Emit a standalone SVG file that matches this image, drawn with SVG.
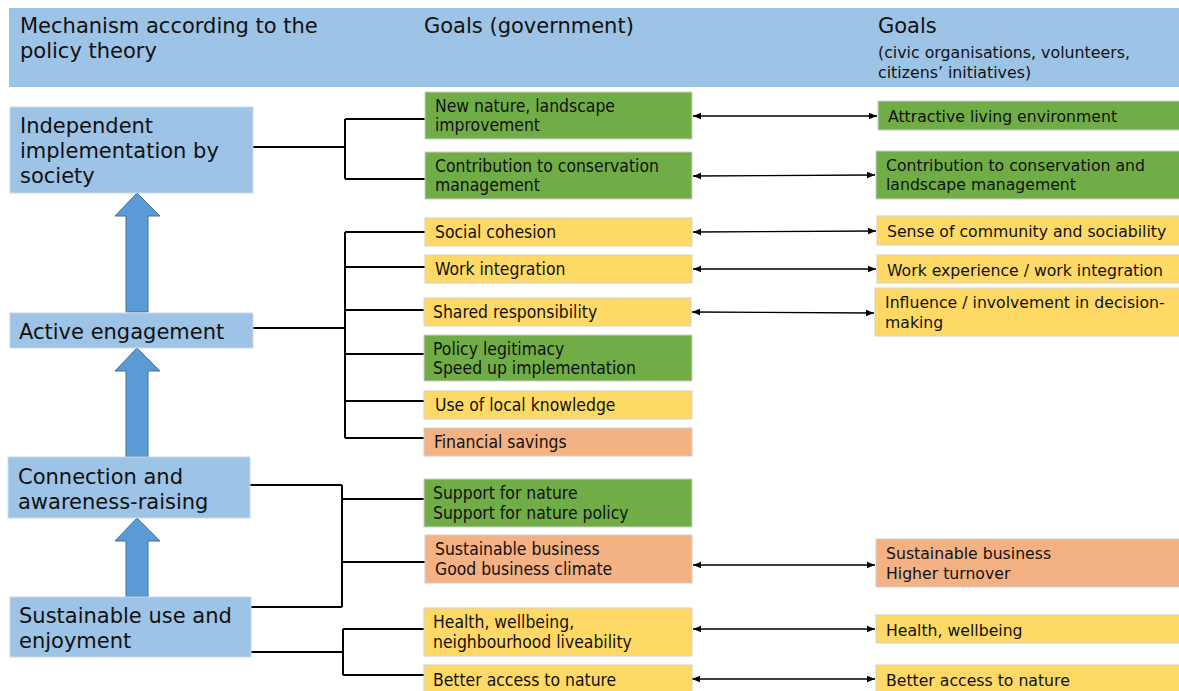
<svg xmlns="http://www.w3.org/2000/svg" width="1179" height="691" viewBox="0 0 1179 691">
<defs>
<marker id="ah" viewBox="0 0 10 10" refX="10" refY="5" markerWidth="8" markerHeight="8" markerUnits="userSpaceOnUse" orient="auto-start-reverse">
<path d="M0,1 L10,5 L0,9 z" fill="#000"/>
</marker>
<style>
.hdr{fill:#9DC3E6}
.mech{fill:#9DC3E6;stroke:#c8d9ea;stroke-width:1}
.g{fill:#70AD47;stroke:#d0d0d0;stroke-width:1}
.y{fill:#FFD966;stroke:#d0d0d0;stroke-width:1}
.o{fill:#F4B183;stroke:#d0d0d0;stroke-width:1}
.up{fill:#5B9BD5;stroke:#41719C;stroke-width:1}
text{fill:#111;font-family:"DejaVu Sans","Liberation Sans",sans-serif}
.ht{font-size:21px}
.hs{font-size:15.8px}
.lt{font-size:21px}
.mt{font-family:"DejaVu Sans Condensed","DejaVu Sans",sans-serif;font-size:17.4px}
.rt{font-size:15.7px}
.br{fill:none;stroke:#000;stroke-width:2}
.dbl{fill:none;stroke:#000;stroke-width:1.3;marker-start:url(#ah);marker-end:url(#ah)}
</style>
</defs>
<rect width="1179" height="691" fill="#fff"/>
<g id="header">
<rect class="hdr" x="9" y="8" width="1170" height="79"/>
<text class="ht" x="20" y="33">Mechanism according to the</text>
<text class="ht" x="20" y="58">policy theory</text>
<text class="ht" x="424" y="33">Goals (government)</text>
<text class="ht" x="878" y="33">Goals</text>
<text class="hs" x="878" y="58">(civic organisations, volunteers,</text>
<text class="hs" x="878" y="78">citizens’ initiatives)</text>
</g>
<g id="arrows-up">
<path class="up" d="M126,312 V216 H115 L137,193 L160,216 H148 V312 Z"/>
<path class="up" d="M126,457 V371 H115 L137,348 L160,371 H148 V457 Z"/>
<path class="up" d="M126,597 V541 H115 L137,518 L160,541 H148 V597 Z"/>
</g>
<g id="connectors">
<path class="br" d="M253,147 H345 M345,119 V179 M345,119 H425 M345,179 H425"/>
<path class="br" d="M253,328 H345 M345,232 V438 M345,232 H425 M345,267 H425 M345,310 H424 M345,354 H424 M345,401 H424 M345,438 H424"/>
<path class="br" d="M250,485 H342 M342,485 V607 M251,607 H342 M342,499 H424 M342,562 H425"/>
<path class="br" d="M251,652 H343 M343,629 V675 M343,629 H424 M343,675 H424"/>
<line class="dbl" x1="693" y1="116" x2="877" y2="116"/>
<line class="dbl" x1="693" y1="176" x2="875" y2="175"/>
<line class="dbl" x1="693" y1="232" x2="876" y2="231"/>
<line class="dbl" x1="693" y1="269" x2="876" y2="269"/>
<line class="dbl" x1="692" y1="312" x2="874" y2="313"/>
<line class="dbl" x1="693" y1="565" x2="875" y2="565"/>
<line class="dbl" x1="693" y1="629" x2="875" y2="629"/>
<line class="dbl" x1="692" y1="679" x2="875" y2="679"/>
</g>
<g id="m1"><rect class="mech" x="10" y="107" width="243" height="86"/>
<text class="lt" x="20" y="133">Independent</text><text class="lt" x="20" y="158">implementation by</text><text class="lt" x="20" y="183">society</text></g>
<g id="m2"><rect class="mech" x="10" y="313" width="243" height="35"/>
<text class="lt" x="19" y="339">Active engagement</text></g>
<g id="m3"><rect class="mech" x="8" y="457" width="242" height="61"/>
<text class="lt" x="18" y="484">Connection and</text><text class="lt" x="18" y="509">awareness-raising</text></g>
<g id="m4"><rect class="mech" x="10" y="597" width="241" height="60"/>
<text class="lt" x="19" y="623">Sustainable use and</text><text class="lt" x="19" y="648">enjoyment</text></g>

<g id="g1"><rect class="g" x="425" y="92" width="267" height="47"/>
<text class="mt" x="435" y="112">New nature, landscape</text><text class="mt" x="435" y="131">improvement</text></g>
<g id="g2"><rect class="g" x="425" y="152" width="267" height="47"/>
<text class="mt" x="435" y="172">Contribution to conservation</text><text class="mt" x="435" y="191">management</text></g>
<g id="g3"><rect class="y" x="425" y="218" width="267" height="28"/>
<text class="mt" x="435" y="238">Social cohesion</text></g>
<g id="g4"><rect class="y" x="425" y="255" width="267" height="28"/>
<text class="mt" x="435" y="275">Work integration</text></g>
<g id="g5"><rect class="y" x="424" y="298" width="267" height="28"/>
<text class="mt" x="433" y="318">Shared responsibility</text></g>
<g id="g6"><rect class="g" x="424" y="335" width="268" height="46"/>
<text class="mt" x="433" y="355">Policy legitimacy</text><text class="mt" x="433" y="374">Speed up implementation</text></g>
<g id="g7"><rect class="y" x="424" y="391" width="268" height="28"/>
<text class="mt" x="435" y="411">Use of local knowledge</text></g>
<g id="g8"><rect class="o" x="424" y="428" width="268" height="28"/>
<text class="mt" x="434" y="448">Financial savings</text></g>
<g id="g9"><rect class="g" x="424" y="479" width="268" height="48"/>
<text class="mt" x="433" y="499">Support for nature</text><text class="mt" x="433" y="519">Support for nature policy</text></g>
<g id="g10"><rect class="o" x="425" y="535" width="267" height="48"/>
<text class="mt" x="435" y="555">Sustainable business</text><text class="mt" x="435" y="575">Good business climate</text></g>
<g id="g11"><rect class="y" x="424" y="608" width="268" height="48"/>
<text class="mt" x="433" y="628">Health, wellbeing,</text><text class="mt" x="433" y="648">neighbourhood liveability</text></g>
<g id="g12"><rect class="y" x="424" y="665" width="268" height="30"/>
<text class="mt" x="433" y="686">Better access to nature</text></g>

<g id="c1"><rect class="g" x="878" y="101" width="302" height="29"/>
<text class="rt" x="888" y="122">Attractive living environment</text></g>
<g id="c2"><rect class="g" x="876" y="151" width="304" height="48"/>
<text class="rt" x="886" y="171">Contribution to conservation and</text><text class="rt" x="886" y="190">landscape management</text></g>
<g id="c3"><rect class="y" x="877" y="216" width="303" height="29"/>
<text class="rt" x="887" y="237">Sense of community and sociability</text></g>
<g id="c4"><rect class="y" x="877" y="255" width="303" height="28"/>
<text class="rt" x="887" y="276">Work experience / work integration</text></g>
<g id="c5"><rect class="y" x="875" y="288" width="305" height="48"/>
<text class="rt" x="885" y="308">Influence / involvement in decision-</text><text class="rt" x="885" y="328">making</text></g>
<g id="c6"><rect class="o" x="876" y="539" width="304" height="48"/>
<text class="rt" x="886" y="559">Sustainable business</text><text class="rt" x="886" y="579">Higher turnover</text></g>
<g id="c7"><rect class="y" x="876" y="615" width="304" height="28"/>
<text class="rt" x="886" y="636">Health, wellbeing</text></g>
<g id="c8"><rect class="y" x="876" y="665" width="304" height="30"/>
<text class="rt" x="886" y="686">Better access to nature</text></g>
</svg>
